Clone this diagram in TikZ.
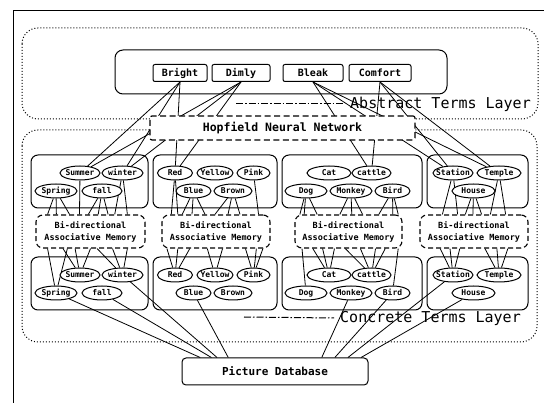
\documentclass[tikz,border=0pt]{standalone}
\usepackage{fontspec}
\setmonofont{DejaVu Sans Mono}
\usetikzlibrary{shapes.geometric,calc}
\pgfdeclarelayer{paper}
\pgfdeclarelayer{links}
\pgfsetlayers{paper,links,main}

\begin{document}
\begin{tikzpicture}[x=1pt,y=-1pt,
  frame/.style={draw,line width=1pt},
  layer/.style={draw,dotted,line width=1pt,rounded corners=16pt},
  grp/.style={draw,line width=1pt,rounded corners=7pt},
  link/.style={line width=0.8pt},
  absterm/.style={draw,fill=white,line width=1pt,rounded corners=2pt,
    minimum height=17pt,inner sep=0pt,font=\ttfamily\bfseries\fontsize{10}{12}\selectfont},
  term/.style={ellipse,draw,fill=white,line width=1pt,inner sep=0pt,
    minimum height=14pt,minimum width=#1,text height=5.8pt,text depth=0pt,
    font=\ttfamily\bfseries\fontsize{8}{9}\selectfont},
  bam/.style={draw,fill=white,dash pattern=on 5pt off 3pt,line width=1.1pt,
    rounded corners=7pt,minimum height=33pt,inner sep=0pt,align=center,
    font=\ttfamily\bfseries\fontsize{8.5}{12}\selectfont},
  hop/.style={draw,fill=white,dash pattern=on 6pt off 3.5pt,line width=1.2pt,
    rounded corners=2pt,minimum width=265pt,minimum height=24pt,inner sep=0pt,
    font=\ttfamily\bfseries\fontsize{11.5}{13}\selectfont},
  pdb/.style={draw,fill=white,line width=1pt,rounded corners=4pt,
    minimum width=186pt,minimum height=27pt,inner sep=0pt,
    font=\ttfamily\bfseries\fontsize{11}{13}\selectfont},
  laylabel/.style={inner sep=0pt,inner xsep=6pt,font=\ttfamily\fontsize{15}{17}\selectfont},
  dashdot/.style={line width=1pt,dash pattern=on 7pt off 2pt on 1.5pt off 2pt}]

\useasboundingbox (0,0) rectangle (544,403);
\clip (0,0) rectangle (544,403);
\begin{pgfonlayer}{paper}
  \fill[white] (0,0) rectangle (544,403);
\end{pgfonlayer}

% outer frame
\draw[frame] (13,11) rectangle (560,420);

% layer outlines
\draw[layer] (22,28) rectangle (538,119);
\draw[layer] (22,130) rectangle (537,342);

% abstract terms
\draw[grp,rounded corners=8pt] (115,50) rectangle (447,94);
\node[absterm,minimum width=54pt] (bright)  at (180,73) {Bright};
\node[absterm,minimum width=58pt] (dimly)   at (241,73) {Dimly};
\node[absterm,minimum width=60pt] (bleak)   at (313,73) {Bleak};
\node[absterm,minimum width=62pt] (comfort) at (380,73) {Comfort};

\node[laylabel,anchor=west] (abslabel) at (344,104) {Abstract Terms Layer};
\coordinate (absdash) at (236,104);
\draw[dashdot] (absdash) -- (abslabel.west);

\node[hop] (hop) at (282.5,128) {Hopfield Neural Network};

% concrete term groups
\draw[grp] (31,155) rectangle (148,208);
\draw[grp] (153,155) rectangle (277,208);
\draw[grp] (282,155) rectangle (422,208);
\draw[grp] (427,155) rectangle (528,208);
\draw[grp] (31,257) rectangle (148,310);
\draw[grp] (153,257) rectangle (277,310);
\draw[grp] (282,257) rectangle (422,310);
\draw[grp] (427,257) rectangle (528,310);

% upper terms
\node[term=40pt] (summerA)  at (80,173)    {\makebox[0pt]{Summer}};
\node[term=41pt] (winterA)  at (122.5,173) {\makebox[0pt]{winter}};
\node[term=42pt] (springA)  at (56,191)    {\makebox[0pt]{Spring}};
\node[term=40pt] (fallA)    at (102,191)   {\makebox[0pt]{fall}};
\node[term=35pt] (redA)     at (175,173)   {\makebox[0pt]{Red}};
\node[term=36pt] (yellowA)  at (215,173)   {\makebox[0pt]{Yellow}};
\node[term=33pt] (pinkA)    at (253.5,173) {\makebox[0pt]{Pink}};
\node[term=35pt] (blueA)    at (193.5,191) {\makebox[0pt]{Blue}};
\node[term=38pt] (brownA)   at (233,191)   {\makebox[0pt]{Brown}};
\node[term=44pt] (catA)     at (329,173)   {\makebox[0pt]{Cat}};
\node[term=39pt] (cattleA)  at (371.5,173) {\makebox[0pt]{cattle}};
\node[term=42pt] (dogA)     at (306,191)   {\makebox[0pt]{Dog}};
\node[term=42pt] (monkeyA)  at (351,191)   {\makebox[0pt]{Monkey}};
\node[term=35pt] (birdA)    at (392.5,191) {\makebox[0pt]{Bird}};
\node[term=40pt] (stationA) at (453,173)   {\makebox[0pt]{Station}};
\node[term=44pt] (templeA)  at (499,173)   {\makebox[0pt]{Temple}};
\node[term=43pt] (houseA)   at (473.5,191) {\makebox[0pt]{House}};

% associative memories
\node[bam,minimum width=109pt] (bamA) at (90.5,231.5) {Bi-directional\\Associative Memory};
\node[bam,minimum width=108pt] (bamB) at (216,231.5)  {Bi-directional\\Associative Memory};
\node[bam,minimum width=107pt] (bamC) at (348.5,231.5){Bi-directional\\Associative Memory};
\node[bam,minimum width=108pt] (bamD) at (474,231.5)  {Bi-directional\\Associative Memory};

% lower terms
\node[term=40pt] (summerB)  at (80,275)    {\makebox[0pt]{Summer}};
\node[term=41pt] (winterB)  at (122.5,275) {\makebox[0pt]{winter}};
\node[term=42pt] (springB)  at (56,293)    {\makebox[0pt]{Spring}};
\node[term=40pt] (fallB)    at (102,293)   {\makebox[0pt]{fall}};
\node[term=35pt] (redB)     at (175,275)   {\makebox[0pt]{Red}};
\node[term=36pt] (yellowB)  at (215,275)   {\makebox[0pt]{Yellow}};
\node[term=33pt] (pinkB)    at (253.5,275) {\makebox[0pt]{Pink}};
\node[term=35pt] (blueB)    at (193.5,293) {\makebox[0pt]{Blue}};
\node[term=38pt] (brownB)   at (233,293)   {\makebox[0pt]{Brown}};
\node[term=44pt] (catB)     at (329,275)   {\makebox[0pt]{Cat}};
\node[term=39pt] (cattleB)  at (371.5,275) {\makebox[0pt]{cattle}};
\node[term=42pt] (dogB)     at (306,293)   {\makebox[0pt]{Dog}};
\node[term=42pt] (monkeyB)  at (351,293)   {\makebox[0pt]{Monkey}};
\node[term=35pt] (birdB)    at (392.5,293) {\makebox[0pt]{Bird}};
\node[term=40pt] (stationB) at (453,275)   {\makebox[0pt]{Station}};
\node[term=44pt] (templeB)  at (499,275)   {\makebox[0pt]{Temple}};
\node[term=43pt] (houseB)   at (473.5,293) {\makebox[0pt]{House}};

\node[laylabel,anchor=west] (conlabel) at (334,318) {Concrete Terms Layer};
\coordinate (condash) at (244,317);
\draw[dashdot] (condash) -- (conlabel.west);

\node[pdb] (pd) at (275,371.5) {Picture Database};

\begin{pgfonlayer}{links}
  % abstract terms to concrete terms, through the Hopfield network
  \foreach \a in {bright,dimly}
    \foreach \c in {summerA,winterA,redA}
      \draw[link] (\a.south) -- (\c);
  \foreach \a in {bleak,comfort}
    \foreach \c in {cattleA,stationA,templeA}
      \draw[link] (\a.south) -- (\c);

  % upper terms to associative memories
  \foreach \t/\b/\fl in {springA/bamA/{.11,.19,.31}, summerA/bamA/{.40},
      fallA/bamA/{.48,.57,.66}, winterA/bamA/{.72,.835},
      redA/bamB/{.09,.15}, blueA/bamB/{.19,.28,.40},
      brownA/bamB/{.49,.61,.72}, pinkA/bamB/{.89},
      dogA/bamC/{.05,.09,.21}, monkeyA/bamC/{.42,.53,.63},
      birdA/bamC/{.78,.91,.96}, stationA/bamD/{.21,.35},
      houseA/bamD/{.42,.49,.57}, templeA/bamD/{.65,.79}}
    \foreach \f in \fl
      \draw[link] (\t) -- ($(\b.north west)!\f!(\b.north east)$);

  % associative memories to lower terms
  \foreach \t/\b/\fl in {springB/bamA/{.11,.29}, summerB/bamA/{.25,.36,.50},
      winterB/bamA/{.56,.70,.835},
      redB/bamB/{.05,.15,.26}, yellowB/bamB/{.42,.56},
      pinkB/bamB/{.77,.87,.93},
      dogB/bamC/{.07}, catB/bamC/{.17,.26,.37},
      cattleB/bamC/{.47,.61,.75,.84}, birdB/bamC/{.96},
      stationB/bamD/{.19,.28,.37}, templeB/bamD/{.60,.71,.81}}
    \foreach \f in \fl
      \draw[link] ($(\b.south west)!\f!(\b.south east)$) -- (\t);

  % lower terms to the picture database
  \foreach \t/\f in {springB/.10, fallB/.16, winterB/.19, blueB/.25,
      monkeyB/.75, birdB/.82, stationB/.89, houseB/.96}
    \draw[link] (\t) -- ($(pd.north west)!\f!(pd.north east)$);
\end{pgfonlayer}
\end{tikzpicture}
\end{document}
